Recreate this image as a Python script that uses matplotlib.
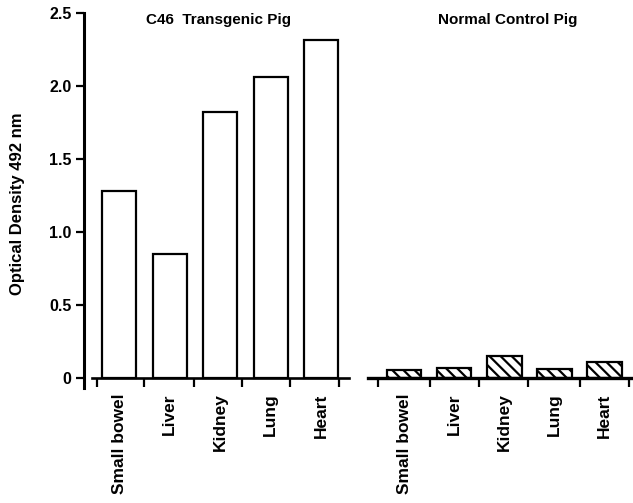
import numpy as np
import matplotlib
matplotlib.use("Agg")
import matplotlib.pyplot as plt

plt.rcParams["font.family"] = ["Liberation Sans", "DejaVu Sans"]
plt.rcParams["font.weight"] = "bold"
plt.rcParams["hatch.linewidth"] = 1.6

# data
organs = ["Small bowel", "Liver", "Kidney", "Lung", "Heart"]
transgenic = [1.28, 0.85, 1.82, 2.06, 2.32]
control = [0.055, 0.07, 0.15, 0.063, 0.11]
y_ticks = [0, 0.5, 1.0, 1.5, 2.0, 2.5]
y_tick_labels = ["0", "0.5", "1.0", "1.5", "2.0", "2.5"]

W, H = 633, 503
fig = plt.figure(figsize=(W / 100, H / 100), dpi=100)

# axes placed in pixels (0 at y=378 px, 2.5 at y=13 px)
ax1 = fig.add_axes([84 / W, 114.8 / H, 266 / W, 374.9 / H])
ax2 = fig.add_axes([368 / W, 114.8 / H, 265 / W, 374.9 / H])

x = np.arange(len(organs))

# ---- left panel: C46 transgenic ----
ax1.bar(x, transgenic, width=0.67, color="white", edgecolor="black", linewidth=1.6)
ax1.set_xlim(-0.70, 4.57)
ax1.set_ylim(-0.07, 2.5)
for s in ["top", "right"]:
    ax1.spines[s].set_visible(False)
ax1.spines["left"].set_linewidth(2.2)
ax1.spines["bottom"].set_position(("data", 0))
ax1.spines["bottom"].set_bounds(-0.55, 4.56)
ax1.spines["bottom"].set_linewidth(1.9)
ax1.set_yticks(y_ticks, y_tick_labels)
ax1.tick_params(axis="y", direction="out", length=6, width=1.6, pad=3, labelsize=11.5)
ax1.set_xticks([-0.45, 0.48, 1.47, 2.43, 3.38, 4.36], [""] * 6)
ax1.tick_params(axis="x", which="major", direction="out", length=6.5, width=1.6)
ax1.set_xticks(x, organs, minor=True)
ax1.tick_params(axis="x", which="minor", length=0, pad=11, labelsize=12.5, labelrotation=90)
ax1.set_ylabel("Optical Density 492 nm", fontsize=12, fontweight="bold")
ax1.yaxis.set_label_coords(-0.222, 0.491)

# ---- right panel: normal control ----
ax2.bar(x, control, width=0.69, color="white", edgecolor="black", linewidth=1.6, hatch="\\\\\\")
ax2.set_xlim(-0.72, 4.57)
ax2.set_ylim(-0.07, 2.5)
for s in ["top", "right", "left"]:
    ax2.spines[s].set_visible(False)
ax2.spines["bottom"].set_position(("data", 0))
ax2.spines["bottom"].set_bounds(-0.72, 4.57)
ax2.spines["bottom"].set_linewidth(2.4)
ax2.set_yticks([])
ax2.set_xticks([-0.52, 0.51, 1.5, 2.48, 3.51, 4.49], [""] * 6)
ax2.tick_params(axis="x", which="major", direction="out", length=6.5, width=1.6)
ax2.set_xticks(x, organs, minor=True)
ax2.tick_params(axis="x", which="minor", length=0, pad=11, labelsize=12.5, labelrotation=90)

for lab in ax1.get_xticklabels(minor=True) + ax2.get_xticklabels(minor=True) + ax1.get_yticklabels():
    lab.set_fontweight("bold")

fig.text(218 / W, 1 - 20 / H, "C46  Transgenic Pig", ha="center", va="center",
         fontsize=11, fontweight="bold")
fig.text(507.5 / W, 1 - 20 / H, "Normal Control Pig", ha="center", va="center",
         fontsize=11, fontweight="bold")

fig.savefig("out.png", dpi=100)
